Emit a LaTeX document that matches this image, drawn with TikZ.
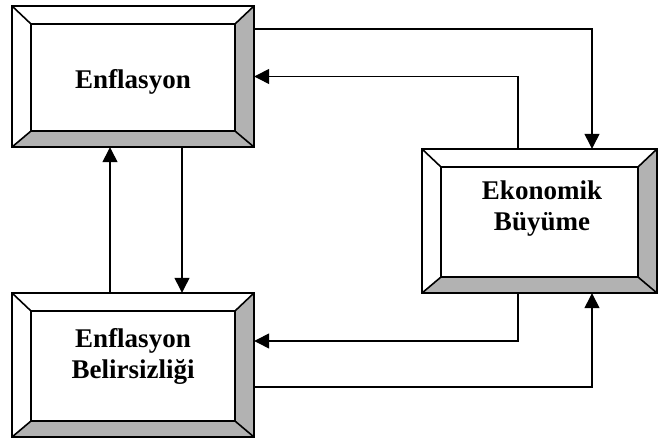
\documentclass[tikz,border=0pt]{standalone}
\usepackage{fontspec}
\setmainfont{Liberation Serif}
\usetikzlibrary{arrows.meta,calc}
\begin{document}
\begin{tikzpicture}[x=1pt,y=1pt,
  outerbox/.style={draw=none,minimum width=#1,inner sep=0pt},
  boxtext/.style={font=\bfseries\fontsize{27}{31}\selectfont,align=center,inner sep=0pt},
  arr/.style={line width=1.3pt,-{Triangle[length=15pt,width=15pt]}},
  shade/.style={fill=black!30},
]
\useasboundingbox (0,0) rectangle (659,439);
% boxes
\node[outerbox=242, minimum height=141] (enf) at (133,362.5) {};
\node[outerbox=242, minimum height=144] (bel) at (133,74) {};
\node[outerbox=235, minimum height=144] (eko) at (539.5,218) {};
% bevels
\foreach \n in {enf,bel,eko}{
  \coordinate (\n-inw) at ($(\n.north west)+(19,-18)$);
  \coordinate (\n-ine) at ($(\n.north east)+(-19,-18)$);
  \coordinate (\n-ise) at ($(\n.south east)+(-19,16)$);
  \coordinate (\n-isw) at ($(\n.south west)+(19,16)$);
  \fill[shade] (\n.south west) -- (\n.south east) -- (\n-ise) -- (\n-isw) -- cycle;
  \fill[shade] (\n.south east) -- (\n.north east) -- (\n-ine) -- (\n-ise) -- cycle;
  \draw[line width=1.6pt] (\n-inw) rectangle (\n-ise);
  \draw[line width=1.6pt] (\n.north west) -- (\n-inw)
    (\n.north east) -- (\n-ine) (\n.south east) -- (\n-ise) (\n.south west) -- (\n-isw);
  \draw[line width=2pt] (\n.south west) rectangle (\n.north east);
}
% texts
\node[boxtext] (enft) at (133,357) {Enflasyon};
\node[boxtext] (belt) at (133,83) {Enflasyon\\Belirsizliği};
\node[boxtext] (ekot) at (542,230) {Ekonomik\\Büyüme};
% connectors
\draw[arr] ([yshift=47.5]enf.east) -| ([xshift=52.5]eko.north);
\draw[arr] ([xshift=-21.5]eko.north) |- (enf.east);
\draw[arr] ([xshift=-23]bel.north) -- ([xshift=-23]enf.south);
\draw[arr] ([xshift=49]enf.south) -- ([xshift=49]bel.north);
\draw[arr] ([xshift=-21.5]eko.south) |- ([yshift=24]bel.east);
\draw[arr] ([yshift=-22]bel.east) -| ([xshift=52.5]eko.south);
\end{tikzpicture}
\end{document}
